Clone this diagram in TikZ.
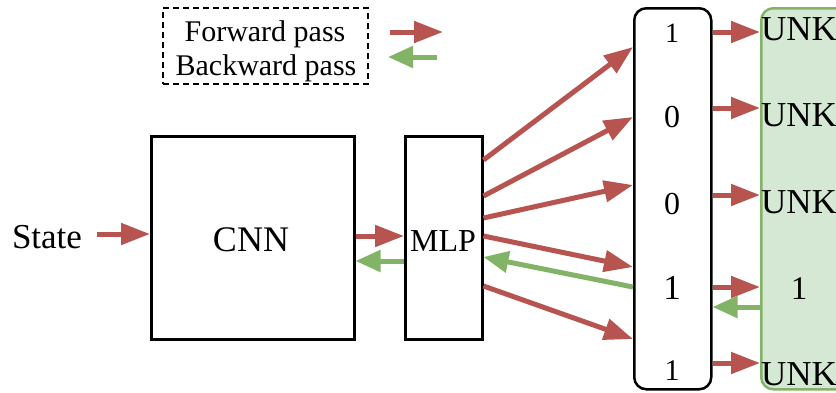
\documentclass[tikz,border=0pt]{standalone}
\usepackage{fontspec}
\setmainfont{Liberation Serif}
\usetikzlibrary{arrows.meta}
\definecolor{fwdred}{HTML}{B85450}
\definecolor{bwdgreen}{HTML}{82B366}
\definecolor{greenfill}{HTML}{D5E8D4}
\newcommand{\fs}[1]{\fontsize{#1}{#1}\selectfont}
\tikzset{
  fwd/.style={draw=fwdred, line width=5pt, -{Triangle[length=29pt,width=21pt]}},
  bwd/.style={draw=bwdgreen, line width=5pt, -{Triangle[length=25pt,width=21pt]}},
  blockbox/.style={draw=black, line width=2.5pt, fill=white},
  lbl/.style={inner sep=0pt, anchor=base},
}
\begin{document}
\begin{tikzpicture}[x=1pt,y=-1pt]
\clip (0,0) rectangle (836,392);
\fill[white] (0,0) rectangle (836,392);
% legend
\node[draw=black, line width=2.3pt, dash pattern=on 6pt off 4pt, minimum width=205pt, minimum height=76pt, anchor=north west, inner sep=0pt] (legend) at (162,7) {};
\node[lbl] (fwdtxt) at (265,41) {\fs{30}Forward pass};
\node[lbl] (bwdtxt) at (266,75) {\fs{30}Backward pass};
\coordinate (lf1) at (390,32);
\coordinate (lf2) at (443,32);
\coordinate (lb1) at (437,57);
\coordinate (lb2) at (388,57);
\draw[fwd] (lf1) -- (lf2);
\draw[bwd] (lb1) -- (lb2);
% blocks
\node[blockbox, minimum width=203pt, minimum height=203pt, anchor=north west, inner sep=0pt] (cnn) at (150,135) {};
\node[lbl] at (251,251) {\fs{36}CNN};
\node[blockbox, minimum width=77pt, minimum height=203pt, anchor=north west, inner sep=0pt] (mlp) at (404,135) {};
\node[lbl] at (443,251) {\fs{32}MLP};
\node[lbl] (state) at (47,248) {\fs{35}State};
\coordinate (stateend) at (97,234);
% column
\node[blockbox, rounded corners=12pt, minimum width=77pt, minimum height=381pt, anchor=north west, inner sep=0pt] (col) at (633,7) {};
\node[lbl] at (672,42) {\fs{28}1};
\node[lbl] at (672,127) {\fs{32}0};
\node[lbl] at (672,214) {\fs{32}0};
\node[lbl] at (672,299) {\fs{35}1};
\node[lbl] at (672,380) {\fs{30}1};
% green box
\node[draw=bwdgreen, line width=2.5pt, fill=greenfill, rounded corners=12pt, minimum width=100pt, minimum height=381pt, anchor=north west, inner sep=0pt] (out) at (760,7) {};
\node[lbl, anchor=base west] at (761,40) {\fs{35}UNK};
\node[lbl, anchor=base west] at (761,126) {\fs{35}UNK};
\node[lbl, anchor=base west] at (761,213) {\fs{35}UNK};
\node[lbl, anchor=base west] at (761,385) {\fs{35}UNK};
\node[lbl] at (799,299) {\fs{33}1};
% arrows
\draw[fwd] (stateend) -- (cnn.west |- stateend);
\draw[fwd] (cnn.east |- 0,236) -- (mlp.west |- 0,236);
\draw[bwd] (mlp.west |- 0,261) -- (cnn.east |- 0,261);
\draw[fwd] (mlp.east |- 0,160) -- (col.west |- 0,47);
\draw[fwd] (mlp.east |- 0,196) -- (col.west |- 0,117);
\draw[fwd] (mlp.east |- 0,218) -- (col.west |- 0,185);
\draw[fwd] (mlp.east |- 0,236) -- (col.west |- 0,267);
\draw[fwd] (mlp.east |- 0,286) -- (col.west |- 0,339);
\draw[bwd] (col.west |- 0,287) -- (mlp.east |- 0,257);
\foreach \yy in {32,108,195,287,363}{
  \draw[fwd] (col.east |- 0,\yy) -- (out.west |- 0,\yy);
}
\draw[bwd] (out.west |- 0,307) -- (col.east |- 0,307);
\end{tikzpicture}
\end{document}
